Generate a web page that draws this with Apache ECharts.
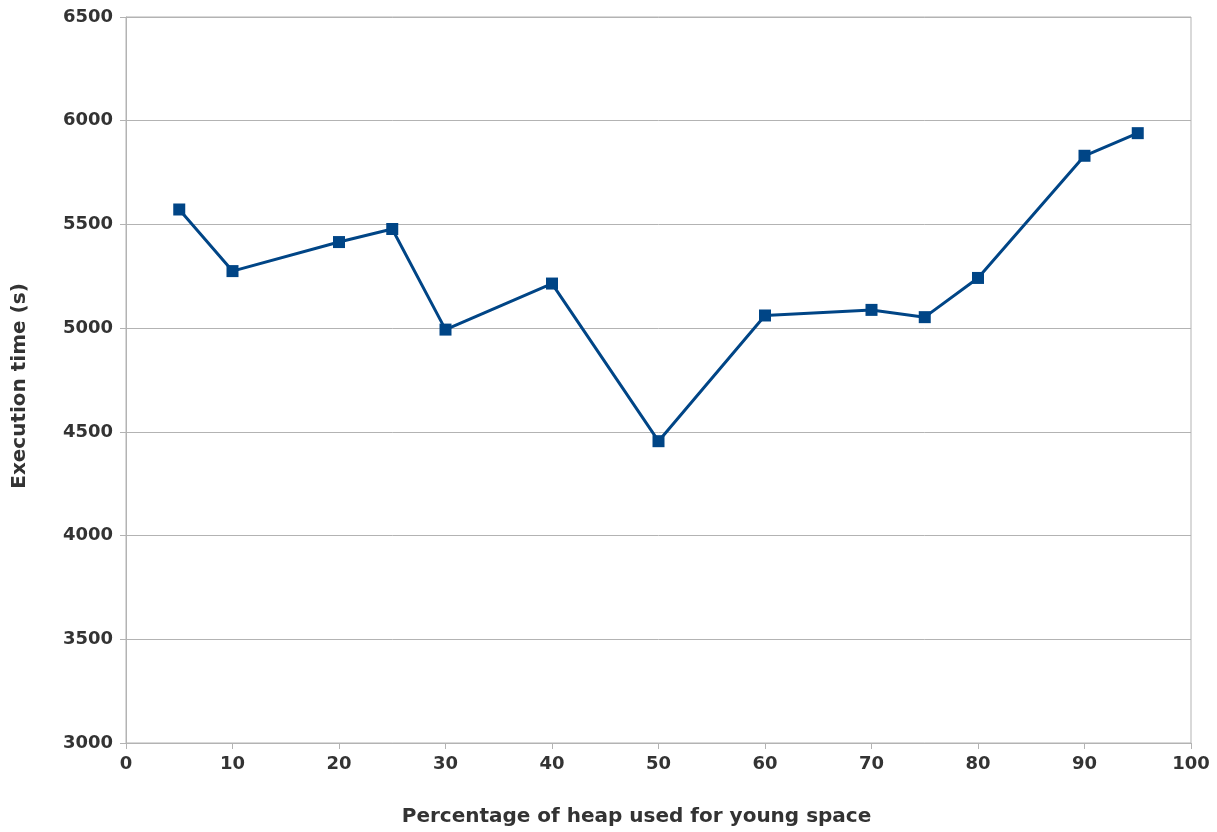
<!DOCTYPE html>
<html>
<head>
<meta charset="utf-8">
<script src="https://cdn.jsdelivr.net/npm/echarts@6/dist/echarts.min.js"></script>
<style>
html,body{margin:0;padding:0;background:#fff;}
#chart{width:1217px;height:832px;}
</style>
</head>
<body>
<div id="chart"></div>
<script>
const xValues = [5, 10, 20, 25, 30, 40, 50, 60, 70, 75, 80, 90, 95];
const execTimes = [5572, 5275, 5415, 5478, 4993, 5215, 4455, 5061, 5088, 5053, 5242, 5831, 5940];
const xAxisName = 'Percentage of heap used for young space';
const yAxisName = 'Execution time (s)';

const chart = echarts.init(document.getElementById('chart'), null, {renderer: 'canvas'});
const labelFont = {fontFamily: 'DejaVu Sans', fontWeight: 'bold', fontSize: 18, color: '#333333'};
const nameFont = {fontFamily: 'DejaVu Sans', fontWeight: 'bold', fontSize: 20, color: '#333333'};
chart.setOption({
  animation: false,
  backgroundColor: '#ffffff',
  grid: {left: 126, right: 26, top: 17, bottom: 88, show: true, borderColor: '#b3b3b3', borderWidth: 1},
  xAxis: {
    type: 'value', min: 0, max: 100, interval: 10,
    name: xAxisName, nameLocation: 'middle', nameGap: 64,
    nameTextStyle: Object.assign({}, nameFont, {padding: [0, 44, 0, 0]}),
    axisLine: {show: true, lineStyle: {color: '#b3b3b3', width: 1}},
    axisTick: {show: true, length: 6, lineStyle: {color: '#b3b3b3'}},
    axisLabel: Object.assign({}, labelFont, {margin: 12}),
    splitLine: {show: false}
  },
  yAxis: {
    type: 'value', min: 3000, max: 6500, interval: 500,
    name: yAxisName, nameLocation: 'middle', nameGap: 96,
    nameTextStyle: Object.assign({}, nameFont, {padding: [0, 12, 0, 0]}),
    axisLine: {show: true, lineStyle: {color: '#b3b3b3', width: 1}},
    axisTick: {show: true, length: 6, lineStyle: {color: '#b3b3b3'}},
    axisLabel: Object.assign({}, labelFont, {margin: 13, formatter: v => String(v)}),
    splitLine: {show: true, lineStyle: {color: '#b3b3b3', width: 1}}
  },
  series: [{
    type: 'line',
    data: xValues.map((x, i) => [x, execTimes[i]]),
    symbol: 'rect', symbolSize: 12,
    lineStyle: {color: '#004586', width: 3},
    itemStyle: {color: '#004586'}
  }]
});
</script>
</body>
</html>
